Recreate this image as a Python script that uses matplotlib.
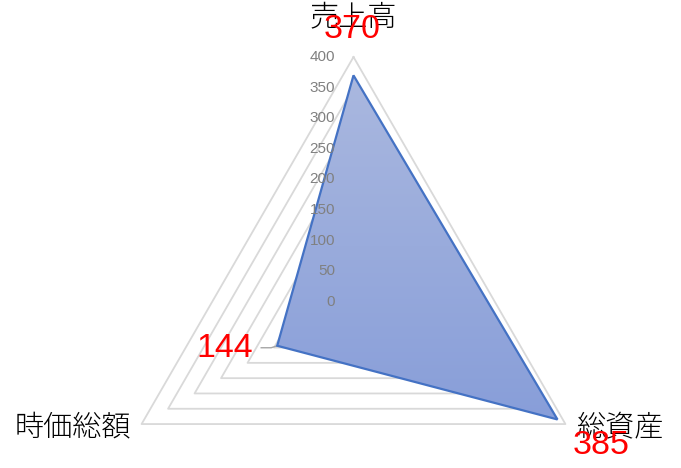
import numpy as np
import matplotlib
matplotlib.use("Agg")
import matplotlib.pyplot as plt
from matplotlib.colors import LinearSegmentedColormap
from matplotlib.patches import Polygon

# Data
categories = ["売上高", "総資産", "時価総額"]
values = [370, 385, 144]
ticks = [0, 50, 100, 150, 200, 250, 300, 350, 400]
r_max = 400

# Layout (pixels)
W, H = 681, 468
CX, CY = 353.5, 301.7
R_PX = 244.7
S = R_PX / r_max  # px per unit

fig = plt.figure(figsize=(W / 100, H / 100), dpi=100)
ax = fig.add_axes([0, 0, 1, 1])
ax.set_xlim(-CX / S, (W - CX) / S)
ax.set_ylim(-(H - CY) / S, CY / S)
ax.set_aspect("equal")
ax.axis("off")

angles = np.deg2rad([0, 120, 240])


def to_xy(r, a):
    return r * np.sin(a), r * np.cos(a)


# grid triangles
for t in ticks[1:]:
    xs, ys = to_xy(t, np.append(angles, angles[0]))
    ax.plot(xs, ys, color="#d9d9d9", lw=1.3, zorder=1)

# filled series with a vertical gradient
px, py = to_xy(np.array(values, dtype=float), angles)
poly = Polygon(np.column_stack([px, py]), closed=True, facecolor="none",
               edgecolor="#4472c4", lw=1.6, zorder=4)
ax.add_patch(poly)
cmap = LinearSegmentedColormap.from_list("grad", ["#aab8df", "#889ed9"])
grad = np.linspace(0, 1, 256).reshape(-1, 1)
img = ax.imshow(grad, cmap=cmap, aspect="auto", zorder=3,
                extent=[px.min(), px.max(), py.min(), py.max()], origin="upper")
clip = Polygon(np.column_stack([px, py]), closed=True, transform=ax.transData)
img.set_clip_path(clip)

# radial tick labels
for t in ticks:
    ax.annotate(str(t), (0, t), xytext=(-13.3, 0), textcoords="offset points",
                ha="right", va="center", fontsize=11, color="#808080",
                family="Liberation Sans", zorder=5)

# category labels
cat_off = [(0, 28.5), (39.3, -2.2), (-49.4, -2.2)]
for name, a, off in zip(categories, angles, cat_off):
    x, y = to_xy(r_max, a)
    ax.annotate(name, (x, y), xytext=off, textcoords="offset points",
                ha="center", va="center", fontsize=21, color="#000000",
                family=["Noto Sans CJK JP", "DejaVu Sans"], fontweight="light",
                zorder=6)

# data labels
val_off = [(-1, 33), (31.3, -19), (-37.5, -2.2)]
for v, a, off in zip(values, angles, val_off):
    x, y = to_xy(v, a)
    ax.annotate(str(v), (x, y), xytext=off, textcoords="offset points",
                ha="center", va="center", fontsize=24.5, color="#ff0000",
                family="Liberation Sans", zorder=7)

# leader line for the small value
x, y = to_xy(values[2], angles[2])
lx = [x - 16 / S, x - 6 / S, x]
ly = [y - 2 / S, y - 2 / S, y]
ax.plot(lx, ly, color="#a6a6a6", lw=1.0, zorder=2)

fig.savefig("out.png", dpi=100)
